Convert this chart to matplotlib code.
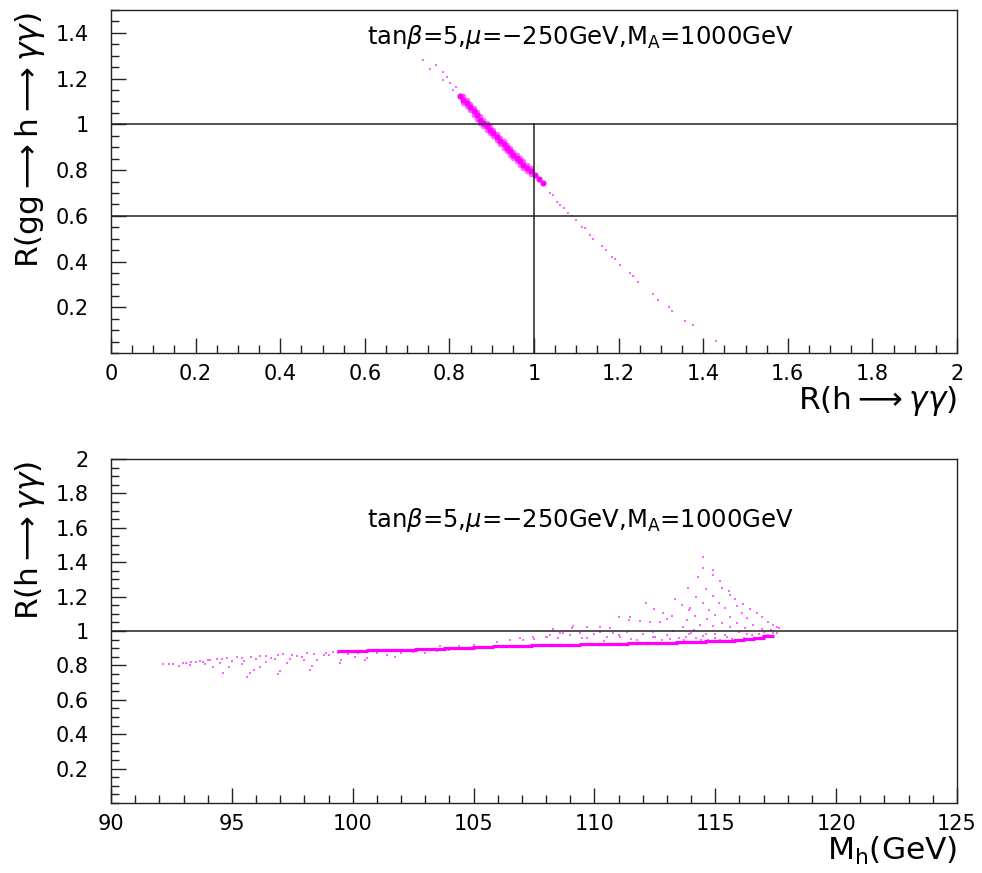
import matplotlib
matplotlib.use("Agg")
import matplotlib.pyplot as plt
from matplotlib.ticker import MultipleLocator, FixedFormatter, FixedLocator

# ---- top panel: R(gg->h->gamma gamma) vs R(h->gamma gamma) ------------------
top_sparse_x = [0.738, 0.768, 0.754, 0.784, 0.786, 0.795, 0.801, 0.809, 0.815,
                1.038, 1.045, 1.061, 1.055, 1.070, 1.089, 1.080, 1.100, 1.113, 1.120,
                1.132, 1.140, 1.160, 1.170, 1.184, 1.192, 1.203, 1.227, 1.235, 1.247,
                1.282, 1.294, 1.318, 1.327, 1.357, 1.375, 1.430]
top_sparse_y = [1.283, 1.261, 1.243, 1.228, 1.196, 1.205, 1.181, 1.152, 1.165,
                0.700, 0.690, 0.648, 0.660, 0.635, 0.597, 0.612, 0.580, 0.553, 0.545,
                0.517, 0.500, 0.466, 0.452, 0.419, 0.410, 0.385, 0.349, 0.338, 0.312,
                0.258, 0.232, 0.203, 0.185, 0.141, 0.121, 0.053]

# dense band: centre row, then upper and lower edges
top_core_x = [0.825, 0.833, 0.841, 0.849, 0.857, 0.865, 0.872, 0.880, 0.888, 0.896,
              0.904, 0.912, 0.920, 0.928, 0.935, 0.943, 0.951, 0.959, 0.967, 0.975,
              0.983, 0.992, 1.002, 1.012, 1.022]
top_core_y = [1.123, 1.108, 1.094, 1.075, 1.057, 1.039, 1.021, 1.006, 0.991, 0.977,
              0.962, 0.944, 0.926, 0.912, 0.897, 0.882, 0.867, 0.852, 0.838, 0.824,
              0.809, 0.795, 0.780, 0.762, 0.743]
top_edge_x = [0.833, 0.841, 0.849, 0.857, 0.865, 0.872, 0.880, 0.888, 0.896, 0.904,
              0.912, 0.920, 0.928, 0.935, 0.943, 0.951, 0.959, 0.967, 0.975, 0.983,
              0.992] * 2
top_edge_y = [1.122, 1.108, 1.089, 1.071, 1.053, 1.035, 1.020, 1.005, 0.991, 0.976,
              0.958, 0.940, 0.926, 0.911, 0.896, 0.881, 0.866, 0.852, 0.838, 0.823,
              0.809,
              1.094, 1.080, 1.061, 1.043, 1.025, 1.007, 0.992, 0.977, 0.963, 0.948,
              0.930, 0.912, 0.898, 0.883, 0.868, 0.853, 0.838, 0.824, 0.810, 0.795,
              0.781]

# ---- bottom panel: R(h->gamma gamma) vs M_h ---------------------------------
bot_dense_x = [99.6, 100.0, 100.4, 100.8, 101.2, 101.6, 102.0, 102.4, 102.8, 103.2,
               103.6, 104.0, 104.4, 104.8, 105.2, 105.6, 106.0, 106.4, 106.8, 107.2,
               107.6, 108.0, 108.4, 108.8, 109.2, 109.6, 110.0, 110.4, 110.8, 111.2,
               111.6, 112.0, 112.4, 112.8, 113.2, 113.6, 114.0, 114.4, 114.8, 115.2,
               115.6, 116.0, 116.4, 116.8, 117.2]
bot_dense_y = [0.881, 0.884, 0.886, 0.887, 0.888, 0.889, 0.891, 0.892, 0.894, 0.896,
               0.898, 0.900, 0.902, 0.904, 0.906, 0.908, 0.910, 0.911, 0.913, 0.914,
               0.916, 0.918, 0.919, 0.920, 0.921, 0.922, 0.923, 0.924, 0.925, 0.926,
               0.928, 0.930, 0.931, 0.932, 0.933, 0.934, 0.936, 0.938, 0.939, 0.941,
               0.944, 0.947, 0.952, 0.960, 0.970]

bot_left_x = [92.14, 92.58, 92.99, 93.27, 93.5, 93.68, 93.9, 94.1, 94.23, 94.37,
              94.5, 94.64, 94.8, 95.0, 95.2, 95.4, 95.61, 95.75, 95.9, 96.0,
              96.16, 96.16, 96.4, 96.6, 96.92, 97.0, 97.13, 97.27, 97.4, 97.7,
              98.0, 98.1, 98.23, 98.3, 98.51, 98.8, 99.2, 99.47, 99.5, 99.8,
              100.1, 100.5, 100.6, 101.0, 101.4, 101.75, 102.0, 102.5, 103.0, 103.5,
              104.0, 92.8, 93.1, 93.8, 94.9, 95.5, 96.8, 97.9, 99.0, 100.2,
              92.4, 93.3, 94.0, 94.6, 95.4, 95.8, 96.4, 96.9, 97.5, 98.4,
              98.9, 99.4]
bot_left_y = [0.806, 0.808, 0.816, 0.800, 0.822, 0.827, 0.808, 0.830, 0.790, 0.837,
              0.815, 0.754, 0.842, 0.825, 0.847, 0.810, 0.734, 0.755, 0.775, 0.835,
              0.855, 0.793, 0.820, 0.845, 0.750, 0.770, 0.864, 0.812, 0.840, 0.855,
              0.832, 0.870, 0.773, 0.795, 0.831, 0.860, 0.878, 0.812, 0.830, 0.865,
              0.850, 0.831, 0.845, 0.870, 0.860, 0.851, 0.875, 0.880, 0.870, 0.885,
              0.890, 0.798, 0.812, 0.818, 0.790, 0.826, 0.838, 0.850, 0.860, 0.872,
              0.810, 0.820, 0.832, 0.838, 0.844, 0.850, 0.852, 0.858, 0.862, 0.866,
              0.872, 0.875]

bot_fan_x = [114.51, 114.49, 114.9, 114.3, 114.92, 115.2, 115.29, 115.58, 113.88, 114.62,
             115.61, 115.82, 116.16, 114.2, 114.92, 113.61, 114.48, 115.17, 115.89, 116.44,
             113.93, 114.75, 115.4, 116.09, 116.74, 114.16, 114.99, 115.61, 116.3, 116.92,
             117.2, 113.82, 114.65, 115.27, 115.89, 116.58, 117.4, 114.37, 113.68, 114.92,
             115.61, 116.23, 116.92, 117.54, 113.34, 112.13, 112.48, 112.85, 113.2, 111.02,
             111.45, 111.88, 112.3, 112.71, 112.99, 109.68, 110.23, 110.64, 109.06, 109.13,
             108.3, 111.47, 113.96, 113.27, 114.1, 112.44, 110.23, 109.4, 108.58, 111.33,
             108.16, 108.71, 107.47, 107.06,
             107.5, 108.0, 108.5, 109.0, 109.5, 110.0, 110.5, 111.0, 111.5, 112.0,
             112.5, 113.0, 113.5, 114.0, 114.5, 115.0, 115.5, 116.0, 116.5, 117.0,
             117.3, 113.8, 113.13, 111.75, 106.5, 105.96, 106.92, 108.02, 110.78, 112.44,
             111.06, 109.68, 115.2, 116.2, 114.4, 112.8, 110.4, 113.7, 114.2, 114.7,
             115.0, 115.7, 116.3, 116.8, 117.4, 117.2, 115.4, 114.6, 113.9, 116.6,
             117.64, 117.54, 116.99, 105.0, 104.4, 103.6]
bot_fan_y = [1.428, 1.368, 1.355, 1.312, 1.326, 1.293, 1.252, 1.234, 1.248, 1.242,
             1.209, 1.184, 1.157, 1.200, 1.203, 1.151, 1.161, 1.161, 1.145, 1.126,
             1.122, 1.122, 1.132, 1.106, 1.106, 1.087, 1.093, 1.080, 1.074, 1.080,
             1.054, 1.064, 1.068, 1.048, 1.044, 1.035, 1.035, 1.035, 1.025, 1.029,
             1.021, 1.016, 1.010, 1.021, 1.186, 1.161, 1.126, 1.106, 1.087, 1.080,
             1.064, 1.058, 1.052, 1.054, 1.068, 1.025, 1.021, 1.019, 1.016, 1.029,
             1.010, 1.083, 1.132, 1.002, 1.006, 0.996, 0.996, 0.990, 0.986, 0.992,
             0.977, 0.986, 0.967, 0.948,
             0.955, 0.967, 0.960, 0.975, 0.957, 0.985, 0.965, 0.975, 0.955, 0.985,
             0.967, 0.978, 0.960, 0.990, 0.970, 0.985, 0.965, 0.995, 0.975, 0.995,
             1.005, 0.967, 0.952, 0.948, 0.948, 0.938, 0.957, 0.967, 0.986, 0.967,
             0.967, 0.957, 0.950, 0.960, 0.950, 0.945, 0.940, 0.945, 0.958, 0.948,
             0.962, 0.955, 0.985, 0.985, 0.990, 0.975, 0.975, 0.985, 0.980, 0.960,
             1.016, 0.986, 0.967, 0.920, 0.915, 0.910]

PARAMS = r"tan$\beta$=5,$\mu$=$-$250GeV,M$_{\mathrm{A}}$=1000GeV"
DENSE = "#ff00ff"
LIGHT = "#ff66ff"
INK = "#222"

plt.rcParams.update({"font.family": "DejaVu Sans", "mathtext.fontset": "dejavusans",
                     "axes.linewidth": 1.0, "axes.edgecolor": INK})

fig = plt.figure(figsize=(9.82, 8.73), dpi=100)
ax1 = fig.add_axes([111 / 982, 1 - 353 / 873, 846 / 982, 343 / 873])
ax2 = fig.add_axes([111 / 982, 1 - 803 / 873, 846 / 982, 344 / 873])


def root_ticks(ax, xmaj, xmin, ymaj, ymin):
    ax.xaxis.set_major_locator(MultipleLocator(xmaj))
    ax.xaxis.set_minor_locator(MultipleLocator(xmin))
    ax.yaxis.set_major_locator(MultipleLocator(ymaj))
    ax.yaxis.set_minor_locator(MultipleLocator(ymin))
    ax.tick_params(which="both", direction="in", top=False, right=False,
                   labelsize=15, width=1.0, color=INK)
    ax.tick_params(which="major", length=11)
    ax.tick_params(which="minor", length=5.5)
    ax.tick_params(axis="x", pad=8)
    ax.tick_params(axis="y", pad=16)


def fmt(v):
    return f"{v:g}"


# top panel
ax1.plot(top_edge_x, top_edge_y, ls="none", marker="o", ms=4.0, mew=0, color=LIGHT)
ax1.plot(top_core_x, top_core_y, ls="none", marker="o", ms=4.4, mew=0, color=DENSE)
ax1.plot(top_sparse_x, top_sparse_y, ls="none", marker="s", ms=1.8, mew=0, color=LIGHT)
ax1.axhline(1.0, color=INK, lw=1.1)
ax1.axhline(0.6, color=INK, lw=1.1)
ax1.plot([1, 1], [0, 1], color=INK, lw=1.1)
ax1.set_xlim(0, 2)
ax1.set_ylim(0, 1.5)
root_ticks(ax1, 0.2, 0.05, 0.2, 0.05)
xt = [0, 0.2, 0.4, 0.6, 0.8, 1.0, 1.2, 1.4, 1.6, 1.8, 2.0]
yt = [0.2, 0.4, 0.6, 0.8, 1.0, 1.2, 1.4]
ax1.xaxis.set_major_locator(FixedLocator(xt))
ax1.xaxis.set_major_formatter(FixedFormatter([fmt(v) for v in xt]))
ax1.yaxis.set_major_locator(FixedLocator(yt))
ax1.yaxis.set_major_formatter(FixedFormatter([fmt(v) for v in yt]))
ax1.text(1.109, 1.38, PARAMS, ha="center", va="center", fontsize=17.5)

# bottom panel
ax2.plot(bot_left_x, bot_left_y, ls="none", marker="s", ms=1.8, mew=0, color=LIGHT)
ax2.plot(bot_fan_x, bot_fan_y, ls="none", marker="s", ms=1.8, mew=0, color=LIGHT)
ax2.plot(bot_dense_x, bot_dense_y, ls="none", marker="_", ms=8, mew=2.3, color=DENSE)
ax2.axhline(1.0, color=INK, lw=1.1)
ax2.set_xlim(90, 125)
ax2.set_ylim(0, 2)
root_ticks(ax2, 5, 1, 0.2, 0.05)
yt2 = [0.2, 0.4, 0.6, 0.8, 1.0, 1.2, 1.4, 1.6, 1.8, 2.0]
ax2.yaxis.set_major_locator(FixedLocator(yt2))
ax2.yaxis.set_major_formatter(FixedFormatter([fmt(v) for v in yt2]))
ax2.text(109.4, 1.645, PARAMS, ha="center", va="center", fontsize=17.5)

# axis titles, ROOT style (x at right end, y at top end)
fig.text(957 / 982, 1 - 401 / 873, r"R(h$\longrightarrow\gamma\gamma$)",
         ha="right", va="center", fontsize=22.5)
fig.text(30 / 982, 1 - 12 / 873, r"R(gg$\longrightarrow$h$\longrightarrow\gamma\gamma$)",
         ha="center", va="top", rotation=90, fontsize=22.5)
fig.text(957 / 982, 1 - 851 / 873, r"M$_{\mathrm{h}}$(GeV)",
         ha="right", va="center", fontsize=22.5)
fig.text(30 / 982, 1 - 461 / 873, r"R(h$\longrightarrow\gamma\gamma$)",
         ha="center", va="top", rotation=90, fontsize=22.5)

fig.savefig("out.png", dpi=100, facecolor="white")
